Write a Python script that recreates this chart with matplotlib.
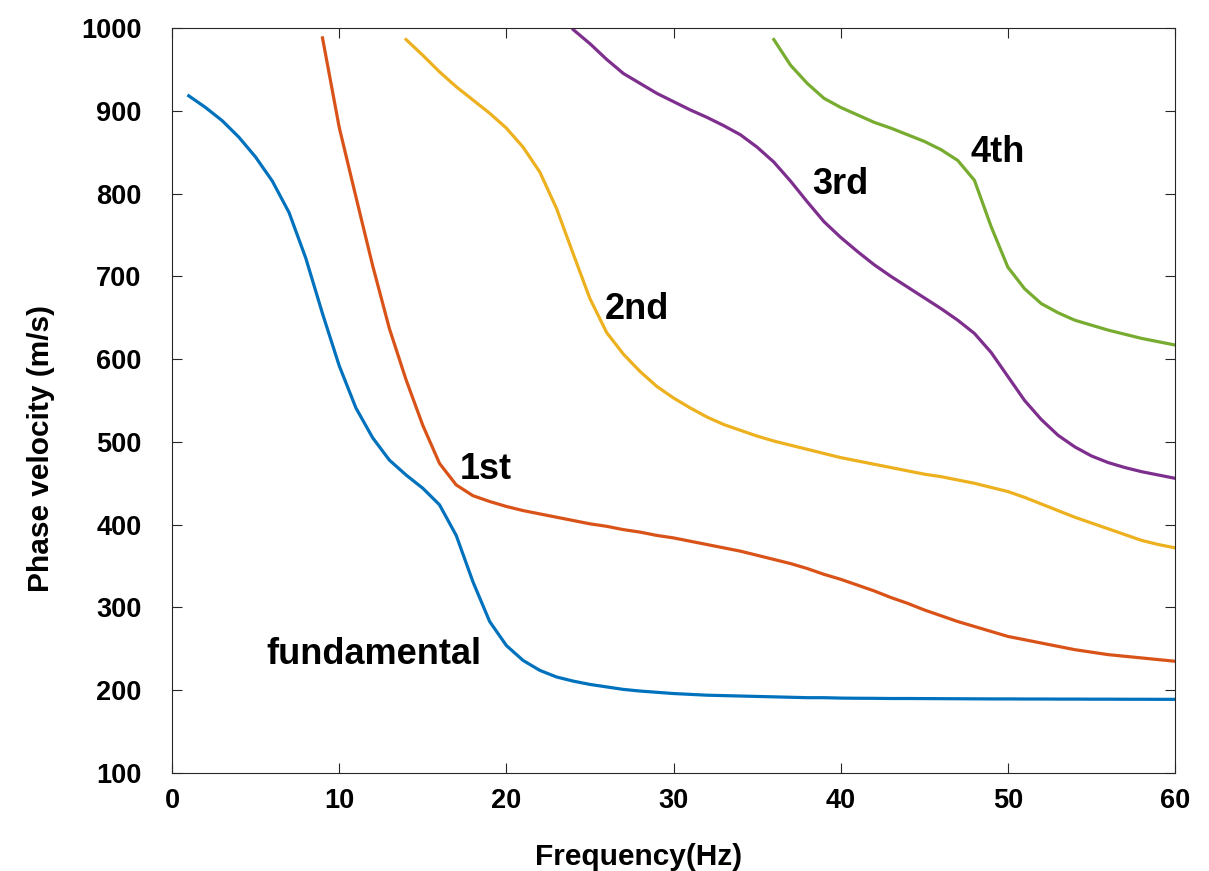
import matplotlib
matplotlib.use("Agg")
import matplotlib.pyplot as plt

plt.rcParams["font.family"] = ["Liberation Sans", "DejaVu Sans"]
plt.rcParams["font.weight"] = "bold"

# frequency (Hz) and phase velocity (m/s) for each mode
f_fund = list(range(1, 61))
v_fund = [918, 904, 888, 868, 844, 815, 777, 722, 655, 592,
          541, 505, 478, 460, 444, 424, 387, 331, 283, 254,
          236, 224, 216, 211, 207, 204, 201, 199, 197.5, 196,
          195, 194, 193.5, 193, 192.5, 192, 191.5, 191, 191, 190.5,
          190.3, 190.2, 190, 190, 189.9, 189.8, 189.7, 189.6, 189.5, 189.5,
          189.4, 189.4, 189.3, 189.3, 189.2, 189.2, 189.1, 189.1, 189, 189]

f_1st = list(range(9, 61))
v_1st = [988, 880, 796, 713, 637, 575, 520, 474, 448, 435,
         428, 422, 417, 413, 409, 405, 401, 398, 394, 391,
         387, 384, 380, 376, 372, 368, 363, 358, 353, 347,
         340, 334, 327, 320, 312, 305, 297, 290, 283, 277,
         271, 265, 261, 257, 253, 249, 246, 243, 241, 239,
         237, 235]

f_2nd = list(range(14, 61))
v_2nd = [986, 967, 947, 929, 913, 897, 879, 856, 826, 782,
         727, 673, 632, 606, 585, 567, 553, 541, 530, 521,
         514, 507, 501, 496, 491, 486, 481, 477, 473, 469,
         465, 461, 458, 454, 450, 445, 440, 433, 425, 417,
         409, 402, 395, 388, 381, 376, 372]

f_3rd = list(range(24, 61))
v_3rd = [998, 981, 962, 945, 933, 921, 911, 901, 892, 882,
         871, 856, 838, 815, 790, 766, 747, 730, 714, 700,
         687, 674, 661, 647, 631, 608, 579, 550, 527, 508,
         494, 483, 475, 469, 464, 460, 456]

f_4th = list(range(36, 61))
v_4th = [986, 955, 933, 915, 904, 895, 886, 879, 871, 863,
         853, 840, 816, 760, 711, 685, 667, 656, 647, 641,
         635, 630, 625, 621, 617]

modes = [
    (f_fund, v_fund, "#0072BD", "fundamental", 12.1, 243),
    (f_1st, v_1st, "#D95319", "1st", 18.8, 467),
    (f_2nd, v_2nd, "#EDB120", "2nd", 27.8, 660),
    (f_3rd, v_3rd, "#7E2F8E", "3rd", 40.0, 811),
    (f_4th, v_4th, "#77AC30", "4th", 49.4, 850),
]

fig = plt.figure(figsize=(12.09, 8.71), dpi=100)
ax = fig.add_axes([0.1423, 0.1125, 0.8296, 0.8554])

for f, v, c, name, tx, ty in modes:
    ax.plot(f, v, color=c, linewidth=2.3)
    ax.text(tx, ty, name, fontsize=26, fontweight="bold", ha="center", va="center")

ax.set_xlim(0, 60)
ax.set_ylim(100, 1000)
ax.set_xticks(range(0, 61, 10))
ax.set_yticks(range(100, 1001, 100))
ax.tick_params(direction="in", length=7.5, width=0.8, colors="#262626",
               labelcolor="black", labelsize=19.5, top=True, right=True)
ax.tick_params(axis="x", pad=11)
ax.tick_params(axis="y", pad=22)
for lab in ax.get_xticklabels() + ax.get_yticklabels():
    lab.set_fontweight("bold")
for s in ax.spines.values():
    s.set_color("#262626")
    s.set_linewidth(0.8)

ax.set_xlabel("Frequency(Hz)", fontsize=21.5, fontweight="bold", labelpad=21)
ax.set_ylabel("Phase velocity (m/s)", fontsize=21.5, fontweight="bold", labelpad=19)
# labels sit a little off-centre in the original
ax.xaxis.label.set_x(0.465)
ax.yaxis.label.set_y(0.435)

fig.savefig("out.png", dpi=100)
plt.close(fig)
